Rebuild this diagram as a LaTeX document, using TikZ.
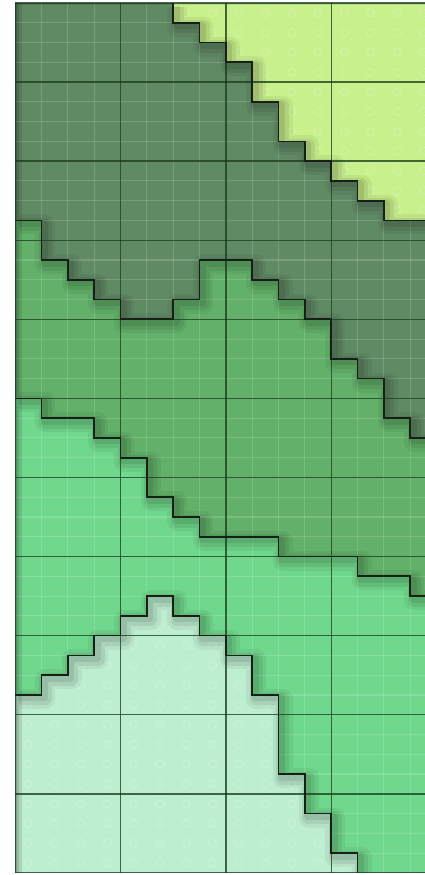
\documentclass[tikz,border=0pt]{standalone}
\definecolor{cA}{RGB}{200,240,140}
\definecolor{cB}{RGB}{96,138,100}
\definecolor{cC}{RGB}{98,176,106}
\definecolor{cD}{RGB}{112,216,140}
\definecolor{cE}{RGB}{190,238,208}
\definecolor{gridc}{RGB}{20,55,25}
\definecolor{edgec}{RGB}{22,32,22}
\tikzset{
  majorline/.style={gridc,opacity=0.75,line width=1.4pt},
  minorline/.style={white,opacity=0.16,line width=1.1pt},
  edgeline/.style={edgec,line width=1.7pt,line join=miter},
  shadowA/.style={black,opacity=0.05,line width=20pt,line join=round,shift={(4pt,-4pt)}},
  shadowB/.style={black,opacity=0.07,line width=13pt,line join=round,shift={(4pt,-4pt)}},
  shadowC/.style={black,opacity=0.09,line width=7pt,line join=round,shift={(3pt,-3pt)}},
  ringmark/.style={white,opacity=0.25,line width=0.7pt}
}
\def\BA{(6,0)--(6,1)--(7,1)--(7,2)--(8,2)--(8,3)--(9,3)--(9,5)--(10,5)--(10,7)--(11,7)--(11,8)--(12,8)--(12,9)--(13,9)--(13,10)--(14,10)--(14,11)--(16,11)}
\def\BB{(0,11)--(1,11)--(1,13)--(2,13)--(2,14)--(3,14)--(3,15)--(4,15)--(4,16)--(6,16)--(6,15)--(7,15)--(7,13)--(9,13)--(9,14)--(10,14)--(10,15)--(11,15)--(11,16)--(12,16)--(12,18)--(13,18)--(13,19)--(14,19)--(14,21)--(15,21)--(15,22)--(16,22)}
\def\BC{(0,20)--(1,20)--(1,21)--(3,21)--(3,22)--(4,22)--(4,23)--(5,23)--(5,25)--(6,25)--(6,26)--(7,26)--(7,27)--(10,27)--(10,28)--(13,28)--(13,29)--(15,29)--(15,30)--(16,30)}
\def\BD{(0,35)--(1,35)--(1,34)--(2,34)--(2,33)--(3,33)--(3,32)--(4,32)--(4,31)--(5,31)--(5,30)--(6,30)--(6,31)--(7,31)--(7,32)--(8,32)--(8,33)--(9,33)--(9,35)--(10,35)--(10,39)--(11,39)--(11,41)--(12,41)--(12,43)--(13,43)--(13,44)}
\begin{document}
\begin{tikzpicture}[x=1pt,y=-1pt]
\useasboundingbox (0,0) rectangle (425,875);
\fill[white] (0,0) rectangle (425,875);
\begin{scope}[shift={(15pt,-3pt)},x=26.35pt,y=-19.77pt]
\clip (0,0) rectangle (15.56,44);
% base fills
\fill[cB] (0,0) rectangle (16,44);
\fill[cC] \BB -- (16,44) -- (0,44) -- cycle;
\fill[cD] \BC -- (16,44) -- (0,44) -- cycle;
% minor grid
\foreach \i in {1,...,15} \draw[minorline] (\i,0) -- (\i,44);
\foreach \j in {1,...,43} \draw[minorline] (0,\j) -- (16,\j);
% pale regions
\fill[cE] \BD -- (0,44) -- cycle;
\fill[cA] \BA -- (16,0) -- cycle;
% ring texture
\begin{scope}
\clip \BA -- (16,0) -- cycle;
\foreach \i in {0,...,15} \foreach \j in {0,...,10} \draw[ringmark] (\i+0.5,\j+0.5) circle[radius=4pt];
\end{scope}
\begin{scope}
\clip \BD -- (0,44) -- cycle;
\foreach \i in {0,...,12} \foreach \j in {30,...,43} \draw[ringmark] (\i+0.5,\j+0.5) circle[radius=4pt];
\end{scope}
% shadows
\foreach \s in {shadowA,shadowB,shadowC} {
  \draw[\s] \BA;
  \draw[\s] \BB;
  \draw[\s] \BC;
  \draw[\s] \BD;
}
% left and top edge shading
\draw[black,opacity=0.10,line width=14pt] (0,0) -- (0,44);
\draw[black,opacity=0.12,line width=8pt] (0,0) -- (0,44);
\draw[black,opacity=0.15,line width=4pt] (0,0) -- (0,44);
\draw[black,opacity=0.10,line width=4pt] (0,0) -- (16,0);
% major grid
\foreach \i in {0,4,8,12} \draw[majorline] (\i,0) -- (\i,44);
\foreach \j in {0,4,...,44} \draw[majorline] (0,\j) -- (16,\j);
% boundaries
\draw[edgeline] \BA;
\draw[edgeline] \BB;
\draw[edgeline] \BC;
\draw[edgeline] \BD;
\end{scope}
\end{tikzpicture}
\end{document}
